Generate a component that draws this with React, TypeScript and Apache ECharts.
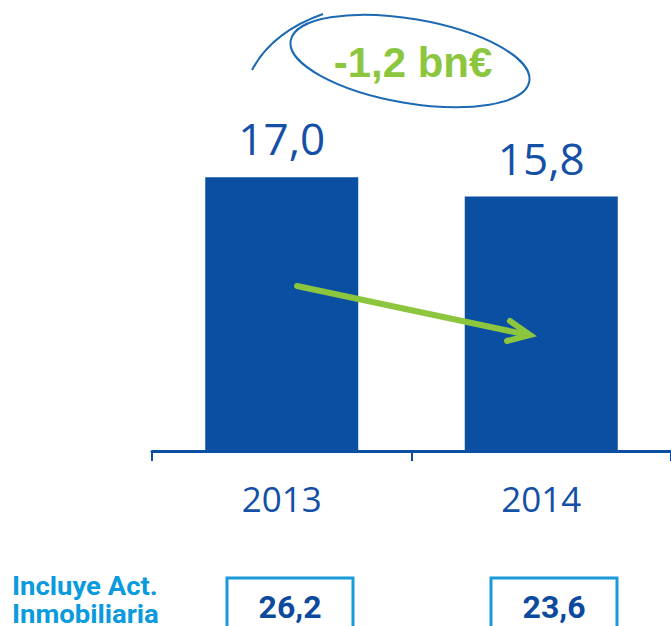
import React, { useEffect, useRef } from "react";
import * as echarts from "echarts";

const categories = ["2013", "2014"];
const values = [17.0, 15.8];
const inmobiliaria = [26.2, 23.6];
const changeLabel = "-1,2 bn€";
const sideLabel = "Incluye Act.\nInmobiliaria";

const fmt = (v: number) => v.toFixed(1).replace(".", ",");

const BAR = "#0b4fa2";
const TXT = "#1450a5";
const GREEN = "#8cc63f";
const LIGHT = "#1a9ad6";

export default function App() {
  const ref = useRef<HTMLDivElement>(null);
  useEffect(() => {
    if (!ref.current) return;
    const chart = echarts.init(ref.current, null, { renderer: "svg" });
    const boxX = [227, 491];
    chart.setOption({
      animation: false,
      grid: { left: 152, right: -7, top: 129, bottom: 175, containLabel: false },
      xAxis: {
        type: "category",
        data: categories,
        axisLine: { lineStyle: { color: BAR, width: 3 } },
        axisTick: { show: true, length: 10, lineStyle: { color: BAR, width: 2 } },
        axisLabel: { color: TXT, fontSize: 35, fontFamily: "Open Sans", margin: 30 },
      },
      yAxis: { type: "value", min: 0, max: 20, show: false, splitLine: { show: false } },
      series: [
        {
          type: "bar",
          data: values,
          barWidth: 153,
          itemStyle: { color: BAR },
          label: {
            show: true,
            position: "top",
            distance: 17,
            color: TXT,
            fontSize: 44,
            fontFamily: "Open Sans",
            formatter: (p: any) => fmt(p.value),
          },
        },
      ],
      graphic: [
        {
          type: "ellipse",
          z: 100,
          x: 410,
          y: 61,
          rotation: -0.17,
          shape: { cx: 0, cy: 0, rx: 121, ry: 42 },
          style: { fill: "none", stroke: "#1d6ab3", lineWidth: 2 },
        },
        {
          type: "bezierCurve",
          z: 100,
          shape: { x1: 252, y1: 70, x2: 323, y2: 14, cpx1: 272, cpy1: 32 },
          style: { fill: "none", stroke: "#1d6ab3", lineWidth: 2 },
        },
        {
          type: "text",
          z: 100,
          x: 413,
          y: 62,
          style: {
            text: changeLabel,
            fill: GREEN,
            fontSize: 42,
            fontWeight: "bold",
            fontFamily: "Liberation Sans",
            align: "center",
            verticalAlign: "middle",
          },
        },
        {
          type: "polyline",
          z: 100,
          shape: { points: [[297, 286], [528, 335]] },
          style: { stroke: GREEN, lineWidth: 6, lineCap: "round", fill: "none" },
        },
        {
          type: "polyline",
          z: 100,
          shape: { points: [[510, 321], [530, 335], [507, 341]] },
          style: { stroke: GREEN, lineWidth: 6, lineCap: "round", lineJoin: "miter", fill: "none" },
        },
        {
          type: "text",
          z: 100,
          x: 12,
          y: 572,
          scaleX: 1.1,
          style: {
            text: sideLabel,
            fill: "#0a9ade",
            fontSize: 25,
            lineHeight: 28,
            fontWeight: "bold",
            fontFamily: "Roboto",
          },
        },
        ...inmobiliaria.flatMap((v, i) => [
          {
            type: "rect",
            z: 100,
            shape: { x: boxX[i], y: 578, width: 126, height: 70 },
            style: { fill: "none", stroke: LIGHT, lineWidth: 3 },
          },
          {
            type: "text",
            z: 100,
            x: boxX[i] + 63,
            y: 607,
            style: {
              text: fmt(v),
              fill: "#0d4a9e",
              fontSize: 32,
              fontWeight: "bold",
              fontFamily: "Roboto",
              align: "center",
              verticalAlign: "middle",
            },
          },
        ]),
      ],
    });
    return () => chart.dispose();
  }, []);
  return (
    <div
      ref={ref}
      style={{ position: "absolute", left: 0, top: 0, width: 671, height: 626, background: "#fff" }}
    />
  );
}
